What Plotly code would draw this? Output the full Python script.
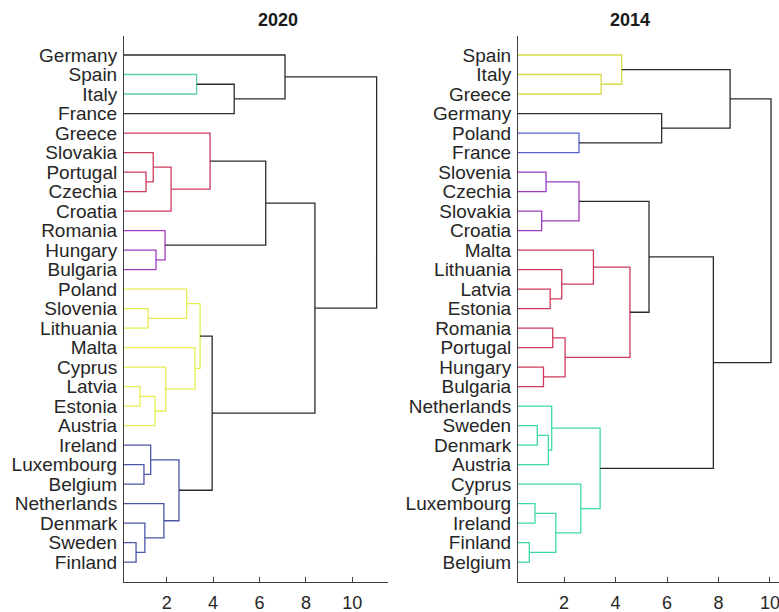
import plotly.graph_objects as go

# ---------------- data ----------------
leaves_2020 = ["Germany", "Spain", "Italy", "France", "Greece", "Slovakia", "Portugal",
               "Czechia", "Croatia", "Romania", "Hungary", "Bulgaria", "Poland", "Slovenia",
               "Lithuania", "Malta", "Cyprus", "Latvia", "Estonia", "Austria", "Ireland",
               "Luxembourg", "Belgium", "Netherlands", "Denmark", "Sweden", "Finland"]
# linkage: child ids (<27 leaf index in display order, >=27 earlier merge), height, cluster
left_2020 = [25, 17, 21, 24, 6, 13, 20, 5, 28, 10, 23, 9, 16, 34, 33, 12, 15, 1, 42, 4, 45, 44, 46, 0, 49, 50]
right_2020 = [26, 18, 22, 27, 7, 14, 29, 31, 19, 11, 30, 36, 35, 8, 37, 32, 39, 2, 43, 40, 41, 3, 38, 48, 47, 51]
height_2020 = [0.68, 0.85, 1.02, 1.06, 1.11, 1.20, 1.31, 1.42, 1.50, 1.54, 1.88, 1.93, 1.96,
               2.19, 2.53, 2.86, 3.22, 3.29, 3.44, 3.87, 3.96, 4.91, 6.27, 7.10, 8.39, 11.05]
cluster_2020 = ["blue", "yellow", "blue", "blue", "red", "yellow", "blue", "red", "yellow",
                "purple", "blue", "purple", "yellow", "red", "blue", "yellow", "yellow", "cyan",
                "yellow", "red", "none", "none", "none", "none", "none", "none"]

leaves_2014 = ["Spain", "Italy", "Greece", "Germany", "Poland", "France", "Slovenia", "Czechia",
               "Slovakia", "Croatia", "Malta", "Lithuania", "Latvia", "Estonia", "Romania",
               "Portugal", "Hungary", "Bulgaria", "Netherlands", "Sweden", "Denmark", "Austria",
               "Cyprus", "Luxembourg", "Ireland", "Finland", "Belgium"]
left_2014 = [25, 23, 19, 8, 16, 6, 29, 12, 18, 14, 28, 11, 36, 32, 4, 22, 10, 35, 1, 0, 43, 40, 3, 48, 46, 51]
right_2014 = [26, 24, 20, 9, 17, 7, 21, 13, 33, 15, 27, 34, 31, 30, 5, 37, 38, 42, 2, 45, 39, 47, 41, 44, 49, 50]
height_2014 = [0.65, 0.87, 0.96, 1.13, 1.20, 1.30, 1.39, 1.46, 1.52, 1.56, 1.68, 1.91, 2.04,
               2.58, 2.58, 2.65, 3.14, 3.40, 3.44, 4.24, 4.56, 5.30, 5.79, 7.80, 8.45, 10.04]
cluster_2014 = ["teal", "teal", "teal", "purple", "red", "purple", "teal", "red", "teal", "red",
                "teal", "red", "red", "purple", "blue", "teal", "red", "teal", "yellow", "yellow",
                "red", "none", "none", "none", "none", "none"]

x_ticks = [2, 4, 6, 8, 10]
titles = ["2020", "2014"]

# ---------------- styles ----------------
colors_2020 = {"cyan": "#5ccfb0", "red": "#cc3a5c", "purple": "#a43cc4", "yellow": "#e6ee50",
               "blue": "#4a56a6", "none": "#2b2b2b"}
colors_2014 = {"yellow": "#d6dc4a", "blue": "#5462cc", "purple": "#9c3cc0", "red": "#cc3a5c",
               "teal": "#3ed8a8", "none": "#2b2b2b"}
FONT = "Liberation Sans, Arial, sans-serif"
W, H = 779, 612


def dendro_traces(leaves, lefts, rights, heights, clusters, palette, xa, ya):
    n = len(leaves)
    pos_y = {i: i + 1 for i in range(n)}
    pos_x = {i: 0.0 for i in range(n)}
    segs = {}
    for k, (a, b, h, c) in enumerate(zip(lefts, rights, heights, clusters)):
        node = n + k
        xs = [pos_x[a], h, h, pos_x[b], None]
        ys = [pos_y[a], pos_y[a], pos_y[b], pos_y[b], None]
        sx, sy = segs.setdefault(c, ([], []))
        sx.extend(xs)
        sy.extend(ys)
        pos_x[node] = h
        pos_y[node] = (pos_y[a] + pos_y[b]) / 2
    traces = []
    for c, (sx, sy) in segs.items():
        traces.append(go.Scatter(x=sx, y=sy, mode="lines", xaxis=xa, yaxis=ya,
                                 line=dict(color=palette[c], width=1.3),
                                 hoverinfo="skip", showlegend=False))
    return traces


fig = go.Figure()
for t in dendro_traces(leaves_2020, left_2020, right_2020, height_2020, cluster_2020,
                       colors_2020, "x", "y"):
    fig.add_trace(t)
for t in dendro_traces(leaves_2014, left_2014, right_2014, height_2014, cluster_2014,
                       colors_2014, "x2", "y2"):
    fig.add_trace(t)

y_bot = 1 - 581.7 / H
y_top = 1 - 35.5 / H
d1 = [124 / W, 388 / W]
d2 = [518 / W, 1.0]

xcommon = dict(showgrid=False, zeroline=False, showline=True, linecolor="#404040", linewidth=1,
               ticks="inside", ticklen=5, tickcolor="#404040", tickvals=x_ticks,
               ticklabeloverflow="allow",
               tickfont=dict(family=FONT, size=18, color="#262626"), ticklabelstandoff=5)
ycommon = dict(showgrid=False, zeroline=False, showline=True, linecolor="#404040", linewidth=1,
               ticks="", range=[28, 0], domain=[y_bot, y_top],
               tickfont=dict(family=FONT, size=19, color="#262626"), ticklabelstandoff=2)

fig.update_layout(
    width=W, height=H, margin=dict(l=0, r=0, t=0, b=0),
    paper_bgcolor="white", plot_bgcolor="white",
    xaxis=dict(domain=d1, range=[0.16, 11.54], anchor="y", **xcommon),
    xaxis2=dict(domain=d2, range=[0.21, 10.35], anchor="y2", **xcommon),
    yaxis=dict(anchor="x", tickvals=list(range(1, 28)), ticktext=leaves_2020, **ycommon),
    yaxis2=dict(anchor="x2", tickvals=list(range(1, 28)), ticktext=leaves_2014, **ycommon),
    annotations=[
        dict(text="<b>%s</b>" % titles[0], x=(d1[0] + d1[1]) / 2, y=1 - 20 / H, xref="paper",
             yref="paper", yanchor="middle", showarrow=False,
             font=dict(family=FONT, size=18, color="#1a1a1a")),
        dict(text="<b>%s</b>" % titles[1], x=(d2[0] + d2[1]) / 2 + 0.005, y=1 - 20 / H,
             xref="paper", yref="paper", yanchor="middle", showarrow=False,
             font=dict(family=FONT, size=18, color="#1a1a1a")),
    ],
)

fig.write_html("out.html", config={"displayModeBar": False},
               post_script="document.body.style.margin='0';document.body.style.padding='0';")
